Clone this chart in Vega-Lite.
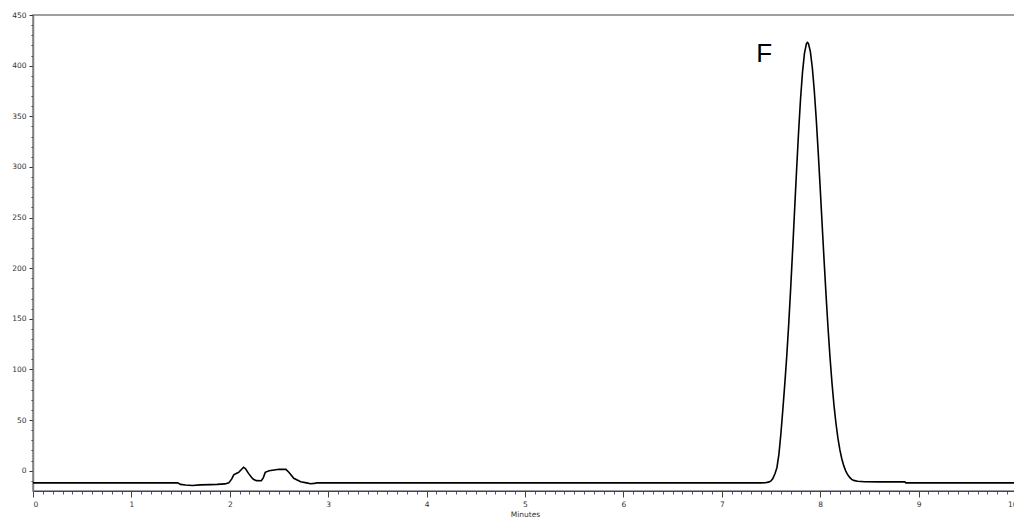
{
  "$schema": "https://vega.github.io/schema/vega-lite/v6.json",
  "autosize": "none",
  "padding": {"left": 33, "top": 15, "right": 0, "bottom": 26},
  "width": 984,
  "height": 476,
  "background": "white",
  "config": {"view": {"stroke": "#808080", "strokeWidth": 1.5}, "font": "DejaVu Sans"},
  "datasets": {
    "trace": [
      {"t": 0, "v": -12}, {"t": 0.5, "v": -12}, {"t": 1.0, "v": -12}, {"t": 1.47, "v": -12},
      {"t": 1.5, "v": -13.5}, {"t": 1.55, "v": -14}, {"t": 1.62, "v": -14.5}, {"t": 1.7, "v": -14},
      {"t": 1.8, "v": -13.7}, {"t": 1.87, "v": -13.5}, {"t": 1.95, "v": -13}, {"t": 1.99, "v": -12},
      {"t": 2.02, "v": -8}, {"t": 2.04, "v": -4}, {"t": 2.07, "v": -2.5}, {"t": 2.09, "v": -1.6},
      {"t": 2.12, "v": 1.5}, {"t": 2.14, "v": 3.4}, {"t": 2.16, "v": 2}, {"t": 2.19, "v": -2.6},
      {"t": 2.22, "v": -6.5}, {"t": 2.24, "v": -8.5}, {"t": 2.27, "v": -9.8}, {"t": 2.32, "v": -9.9},
      {"t": 2.34, "v": -7}, {"t": 2.36, "v": -1.6}, {"t": 2.40, "v": 0}, {"t": 2.45, "v": 0.7},
      {"t": 2.50, "v": 1.4}, {"t": 2.57, "v": 1.4}, {"t": 2.60, "v": -1.5}, {"t": 2.65, "v": -7.5},
      {"t": 2.72, "v": -10.9}, {"t": 2.78, "v": -12}, {"t": 2.82, "v": -12.8}, {"t": 2.86, "v": -12.5},
      {"t": 2.88, "v": -12}, {"t": 4, "v": -12}, {"t": 6, "v": -12}, {"t": 7.3, "v": -12},
      {"t": 7.40, "v": -12}, {"t": 7.44, "v": -11.8}, {"t": 7.46, "v": -11.5}, {"t": 7.48, "v": -11},
      {"t": 7.50, "v": -10}, {"t": 7.52, "v": -7.5}, {"t": 7.54, "v": -3}, {"t": 7.56, "v": 3},
      {"t": 7.58, "v": 16}, {"t": 7.60, "v": 36}, {"t": 7.62, "v": 60}, {"t": 7.64, "v": 85.5},
      {"t": 7.66, "v": 113.1}, {"t": 7.68, "v": 144.8}, {"t": 7.70, "v": 180.2}, {"t": 7.72, "v": 218.3},
      {"t": 7.74, "v": 257.8}, {"t": 7.76, "v": 297}, {"t": 7.78, "v": 334}, {"t": 7.80, "v": 366.8},
      {"t": 7.82, "v": 393.3}, {"t": 7.84, "v": 412.1}, {"t": 7.86, "v": 421.8}, {"t": 7.87, "v": 423},
      {"t": 7.88, "v": 422}, {"t": 7.90, "v": 413.8}, {"t": 7.92, "v": 397.9}, {"t": 7.94, "v": 375.2},
      {"t": 7.96, "v": 346.8}, {"t": 7.98, "v": 314.2}, {"t": 8.00, "v": 279.1}, {"t": 8.02, "v": 242.7},
      {"t": 8.04, "v": 206.8}, {"t": 8.06, "v": 172.4}, {"t": 8.08, "v": 140.4}, {"t": 8.10, "v": 111.6},
      {"t": 8.12, "v": 86.4}, {"t": 8.14, "v": 64.8}, {"t": 8.16, "v": 46.9}, {"t": 8.18, "v": 32.2},
      {"t": 8.20, "v": 20.6}, {"t": 8.22, "v": 11.6}, {"t": 8.24, "v": 4.8}, {"t": 8.26, "v": -0.3},
      {"t": 8.28, "v": -4}, {"t": 8.30, "v": -6.6}, {"t": 8.32, "v": -8.5}, {"t": 8.34, "v": -9.5},
      {"t": 8.38, "v": -10.3}, {"t": 8.45, "v": -10.8}, {"t": 8.6, "v": -11}, {"t": 8.86, "v": -11},
      {"t": 8.87, "v": -12}, {"t": 10, "v": -12}
    ],
    "ann": [{"t": 7.43, "v": 404, "label": "F"}]
  },
  "encoding": {
    "x": {
      "field": "t", "type": "quantitative",
      "scale": {"domain": [0, 10], "nice": false, "zero": false},
      "axis": {
        "title": "Minutes",
        "values": [0,0.1,0.2,0.3,0.4,0.5,0.6,0.7,0.8,0.9,1,1.1,1.2,1.3,1.4,1.5,1.6,1.7,1.8,1.9,2,2.1,2.2,2.3,2.4,2.5,2.6,2.7,2.8,2.9,3,3.1,3.2,3.3,3.4,3.5,3.6,3.7,3.8,3.9,4,4.1,4.2,4.3,4.4,4.5,4.6,4.7,4.8,4.9,5,5.1,5.2,5.3,5.4,5.5,5.6,5.7,5.8,5.9,6,6.1,6.2,6.3,6.4,6.5,6.6,6.7,6.8,6.9,7,7.1,7.2,7.3,7.4,7.5,7.6,7.7,7.8,7.9,8,8.1,8.2,8.3,8.4,8.5,8.6,8.7,8.8,8.9,9,9.1,9.2,9.3,9.4,9.5,9.6,9.7,9.8,9.9,10],
        "labelExpr": "abs(datum.value - round(datum.value)) < 0.001 ? format(datum.value, 'd') : ''",
        "labelOverlap": false,
        "tickSize": {"condition": {"test": "abs(datum.value - round(datum.value)) < 0.001", "value": 6}, "value": 3},
        "tickColor": {"condition": {"test": "abs(datum.value - round(datum.value)) < 0.001", "value": "#444444"}, "value": "#4b4bb0"},
        "domainColor": "#444444",
        "domainWidth": 1,
        "labelFontSize": 7.5,
        "labelColor": "#333333",
        "labelPadding": 3,
        "titleFontSize": 7.5,
        "titleFontWeight": "normal",
        "titleColor": "#333333",
        "titlePadding": 3,
        "grid": false
      }
    },
    "y": {
      "field": "v", "type": "quantitative",
      "scale": {"domain": [-20, 450], "nice": false, "zero": false},
      "axis": {
        "title": null,
        "values": [-10,0,10,20,30,40,50,60,70,80,90,100,110,120,130,140,150,160,170,180,190,200,210,220,230,240,250,260,270,280,290,300,310,320,330,340,350,360,370,380,390,400,410,420,430,440,450],
        "labelExpr": "datum.value % 50 === 0 ? datum.label : ''",
        "labelOverlap": false,
        "tickSize": {"condition": {"test": "datum.value % 50 === 0", "value": 4}, "value": 2},
        "tickColor": "#333333",
        "domainColor": "#808080",
        "domainWidth": 1.5,
        "labelFontSize": 7.5,
        "labelColor": "#333333",
        "labelPadding": 3,
        "grid": false
      }
    }
  },
  "layer": [
    {"data": {"name": "trace"}, "mark": {"type": "line", "color": "black", "strokeWidth": 1.6}},
    {"data": {"name": "ann"}, "mark": {"type": "text", "font": "Liberation Sans", "fontSize": 26, "baseline": "alphabetic", "align": "center", "color": "black"}, "encoding": {"text": {"field": "label"}}}
  ]
}
